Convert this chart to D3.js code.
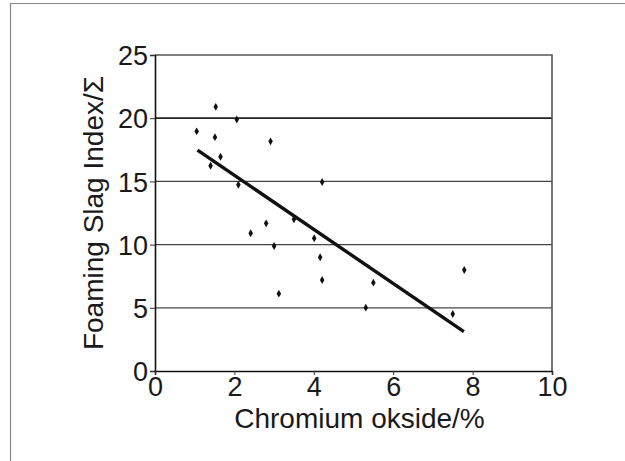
<!DOCTYPE html>
<html>
<head>
<meta charset="utf-8">
<script src="https://cdn.jsdelivr.net/npm/d3@7"></script>
<style>
body { margin:0; background:#fff; }
svg text { font-family: "Liberation Sans", Arial, sans-serif; fill:#1a1a1a; }
</style>
</head>
<body>
<script>
// points
var chromium = [1.05, 1.53, 1.51, 1.40, 1.65, 2.06, 2.10, 2.91, 4.21,
                2.41, 2.80, 3.50, 3.00, 4.01, 4.16, 4.21, 3.12,
                5.50, 5.31, 7.50, 7.79];
var foaming = [18.96, 20.9, 18.5, 16.24, 16.95, 19.9, 14.74, 18.17, 14.95,
               10.9, 11.68, 12.0, 9.89, 10.5, 9.0, 7.2, 6.12,
               6.99, 5.01, 4.51, 7.99];
var fitX = [1.07, 7.78];
var fitY = [17.48, 3.11];
var xTicks = [0, 2, 4, 6, 8, 10];
var yTicks = [0, 5, 10, 15, 20, 25];
var gridY = [5, 10, 15, 20];

var W = 625, H = 461;
var svg = d3.select("body").append("svg").attr("width", W).attr("height", H);

// outer frame (only left/top visible)
svg.append("path").attr("d", "M10.5," + H + "V3.5H" + W)
   .attr("fill", "none").attr("stroke", "#888").attr("stroke-width", 1.2);

var x = d3.scaleLinear().domain([0, 10]).range([155, 552]);
var y = d3.scaleLinear().domain([0, 25]).range([371, 55]);

// grid
svg.append("g").selectAll("line").data(gridY).enter().append("line")
   .attr("x1", x(0)).attr("x2", x(10))
   .attr("y1", function(d){ return y(d); }).attr("y2", function(d){ return y(d); })
   .attr("stroke", function(d){ return d == 20 ? "#222" : "#444"; })
   .attr("stroke-width", function(d){ return d == 20 ? 1.8 : 1.3; });

// top + right border
svg.append("path").attr("d", "M" + x(0) + "," + y(25) + "H" + x(10) + "V" + y(0))
   .attr("fill", "none").attr("stroke", "#555").attr("stroke-width", 1.6);

var yAxis = svg.append("g").attr("transform", "translate(" + x(0) + ",0)")
   .call(d3.axisLeft(y).tickValues(yTicks).tickSize(5).tickPadding(2));
var xAxis = svg.append("g").attr("transform", "translate(0," + y(0) + ")")
   .call(d3.axisBottom(x).tickValues(xTicks).tickSize(4).tickPadding(2));

[yAxis, xAxis].forEach(function(a){
  a.select(".domain").attr("stroke", "#111").attr("stroke-width", 1.6);
  a.selectAll(".tick line").attr("stroke", "#333");
  a.selectAll(".tick text").attr("font-size", 27).attr("fill", "#1a1a1a")
   .attr("font-family", "Liberation Sans, Arial, sans-serif");
});
yAxis.selectAll(".tick text").attr("dy", "0.36em");

// regression line
svg.append("path")
   .datum(d3.zip(fitX, fitY))
   .attr("d", d3.line().x(function(d){ return x(d[0]); }).y(function(d){ return y(d[1]); }))
   .attr("fill", "none").attr("stroke", "#111").attr("stroke-width", 3.4);

// points
svg.append("g").selectAll("path").data(d3.zip(chromium, foaming)).enter().append("path")
   .attr("d", d3.symbol().type(d3.symbolDiamond).size(18))
   .attr("transform", function(d){ return "translate(" + x(d[0]) + "," + y(d[1]) + ")"; })
   .attr("fill", "#111");

// axis titles
svg.append("text").attr("x", (x(0) + x(10)) / 2 + 6).attr("y", 428)
   .attr("text-anchor", "middle").attr("font-size", 28)
   .text("Chromium okside/%");
svg.append("text").attr("transform", "translate(103,213) rotate(-90)")
   .attr("text-anchor", "middle").attr("font-size", 28)
   .text("Foaming Slag Index/Σ");
</script>
</body>
</html>
